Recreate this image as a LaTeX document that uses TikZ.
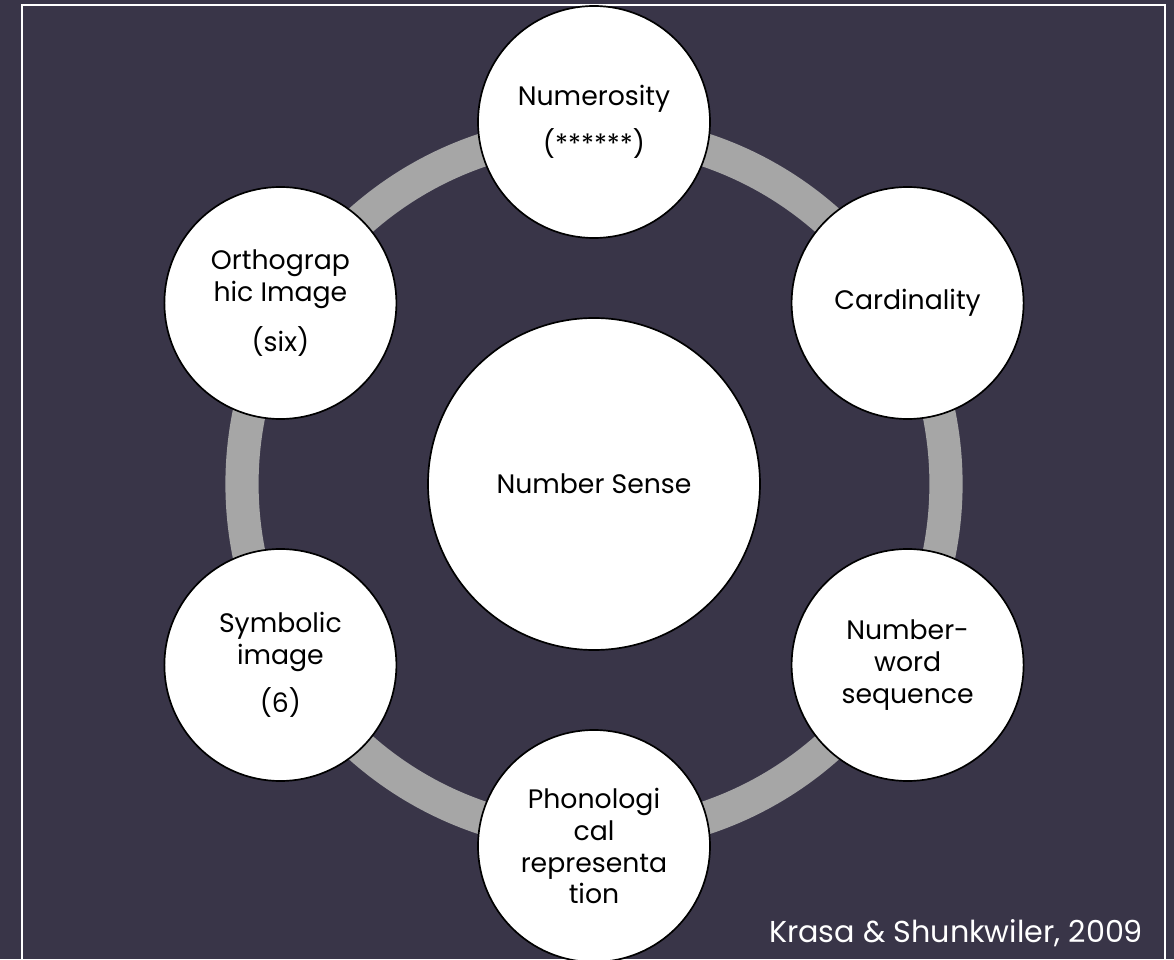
\documentclass[tikz,border=0pt]{standalone}
\usepackage{fontspec}
\setmainfont{Poppins}
\definecolor{slate}{RGB}{57,53,72}
\definecolor{ringgray}{RGB}{166,166,166}

\begin{document}
\begin{tikzpicture}[
    bubble/.style={circle, draw=black, line width=1.2pt, fill=white, minimum size=5.8cm,
        inner sep=0pt, align=center, font=\fontsize{19}{22.7}\selectfont},
    core/.style={bubble, minimum size=8.3cm},
    ring/.style={draw=ringgray, line width=0.83cm}
]
    % Background
    \useasboundingbox (0,0) rectangle (29.35,23.975);
    \fill[slate] (0,0) rectangle (29.35,23.975);
    \draw[white, line width=1.4pt] (0.55,-0.5) -- (0.55,23.85) -- (29.125,23.85) -- (29.125,-0.5);

    % Ring
    \coordinate (mid) at (14.85,11.875);
    \draw[ring] (mid) circle (8.8);

    % Circles
    \node[core] (sense) at (mid) {Number Sense};
    \node[bubble] (numerosity) at (14.85,20.925) {Numerosity\\[0.4cm](******)};
    \node[bubble] (cardinality) at (22.69,16.40) {Cardinality};
    \node[bubble] (wordseq) at (22.69,7.35) {Number-\\word\\sequence};
    \node[bubble] (phono) at (14.85,2.825) {Phonologi\\cal\\representa\\tion};
    \node[bubble] (symbolic) at (7.01,7.35) {Symbolic\\image\\[0.35cm](6)};
    \node[bubble] (ortho) at (7.01,16.40) {Orthograp\\hic Image\\[0.42cm](six)};

    % Source
    \node[anchor=east, text=white, font=\fontsize{21.5}{25}\selectfont] (credit) at (28.7,0.65) {Krasa \& Shunkwiler, 2009};
\end{tikzpicture}
\end{document}
